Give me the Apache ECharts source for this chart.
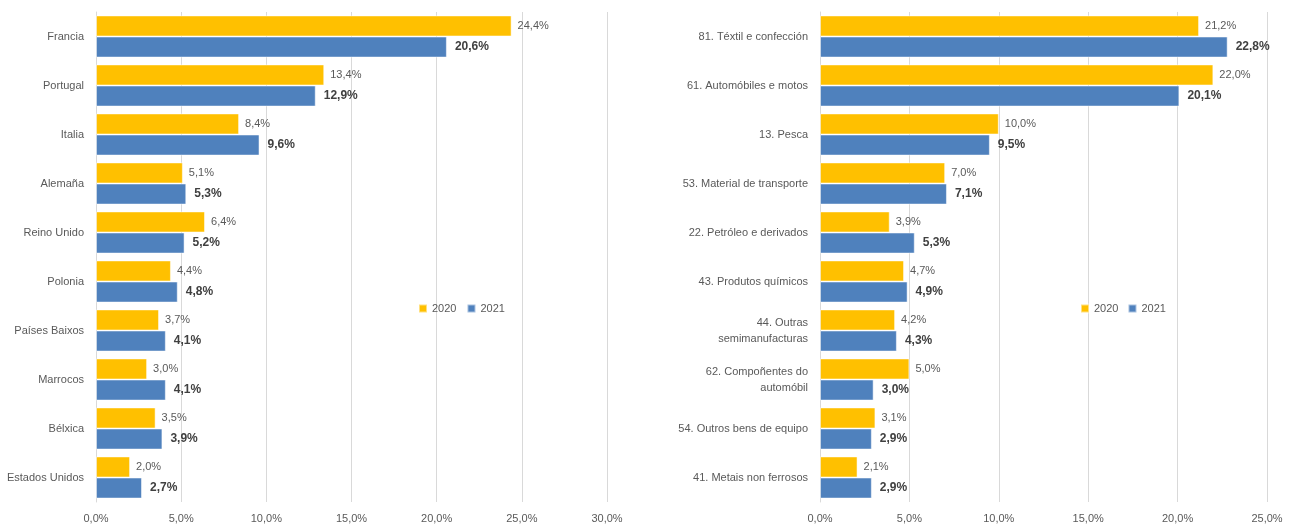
<!DOCTYPE html>
<html>
<head>
<meta charset="utf-8">
<script src="https://cdn.jsdelivr.net/npm/echarts@6/dist/echarts.min.js"></script>
<style>
  html, body { margin: 0; padding: 0; background: #fff; }
  #main { width: 1290px; height: 524px; }
</style>
</head>
<body>
<div id="main"></div>
<script>
// paises
var paises = ['Francia', 'Portugal', 'Italia', 'Alemaña', 'Reino Unido', 'Polonia', 'Países Baixos', 'Marrocos', 'Bélxica', 'Estados Unidos'];
var paises2020 = [24.4, 13.4, 8.4, 5.1, 6.4, 4.4, 3.7, 3.0, 3.5, 2.0];
var paises2021 = [20.6, 12.9, 9.6, 5.3, 5.2, 4.8, 4.1, 4.1, 3.9, 2.7];

// sectores
var sectores = ['81. Téxtil e confección', '61. Automóbiles e motos', '13. Pesca', '53. Material de transporte', '22. Petróleo e derivados', '43. Produtos químicos', '44. Outras\nsemimanufacturas', '62. Compoñentes do\nautomóbil', '54. Outros bens de equipo', '41. Metais non ferrosos'];
var sectores2020 = [21.2, 22.0, 10.0, 7.0, 3.9, 4.7, 4.2, 5.0, 3.1, 2.1];
var sectores2021 = [22.8, 20.1, 9.5, 7.1, 5.3, 4.9, 4.3, 3.0, 2.9, 2.9];

var anos = ['2020', '2021'];
var cores = ['#FFC000', '#4F81BD'];
var fonte = 'Liberation Sans';

function pct(v) {
    return v.toFixed(1).replace('.', ',') + '%';
}

function xEixo(idx, max) {
    return {
        gridIndex: idx,
        type: 'value',
        min: 0,
        max: max,
        interval: 5,
        axisLine: { show: false },
        axisTick: { show: false },
        splitLine: { lineStyle: { color: '#D9D9D9', width: 1 } },
        axisLabel: {
            color: '#595959', fontSize: 11, fontFamily: fonte, margin: 11,
            formatter: function (v) { return pct(v); }
        }
    };
}

function yEixo(idx, cats) {
    return {
        gridIndex: idx,
        type: 'category',
        inverse: true,
        data: cats,
        axisLine: { show: true, lineStyle: { color: '#D9D9D9' } },
        axisTick: { show: false },
        axisLabel: { color: '#595959', fontSize: 11, fontFamily: fonte, margin: 12, lineHeight: 16 }
    };
}

function serie(idx, nome, dados, i) {
    var bold = i === 1;
    return {
        name: nome,
        type: 'bar',
        xAxisIndex: idx,
        yAxisIndex: idx,
        data: dados,
        barGap: '0%',
        barCategoryGap: '14%',
        itemStyle: { color: cores[i], borderColor: 'rgba(255,255,255,0.5)', borderWidth: 1 },
        label: {
            show: true,
            position: 'right',
            distance: bold ? 8 : 6,
            color: bold ? '#404040' : '#595959',
            fontSize: bold ? 12 : 11,
            fontWeight: bold ? 'bold' : 'normal',
            fontFamily: fonte,
            formatter: function (p) { return pct(p.value); }
        }
    };
}

var myChart = echarts.init(document.getElementById('main'));
var option = {
    animation: false,
    backgroundColor: '#fff',
    color: cores,
    textStyle: { fontFamily: fonte },
    legend: [
        {
            data: anos, left: 413, top: 298, itemWidth: 8, itemHeight: 8, itemGap: 10, icon: 'rect',
            textStyle: { color: '#595959', fontSize: 11, fontFamily: fonte }
        },
        {
            data: anos, left: 1075, top: 298, itemWidth: 8, itemHeight: 8, itemGap: 9, icon: 'rect',
            textStyle: { color: '#595959', fontSize: 11, fontFamily: fonte }
        }
    ],
    grid: [
        { left: 96, right: 683, top: 12, bottom: 22 },
        { left: 820, right: 23, top: 12, bottom: 22 }
    ],
    xAxis: [xEixo(0, 30), xEixo(1, 25)],
    yAxis: [yEixo(0, paises), yEixo(1, sectores)],
    series: [
        serie(0, anos[0], paises2020, 0),
        serie(0, anos[1], paises2021, 1),
        serie(1, anos[0], sectores2020, 0),
        serie(1, anos[1], sectores2021, 1)
    ]
};
myChart.setOption(option);
window.onresize = myChart.resize;
</script>
</body>
</html>
